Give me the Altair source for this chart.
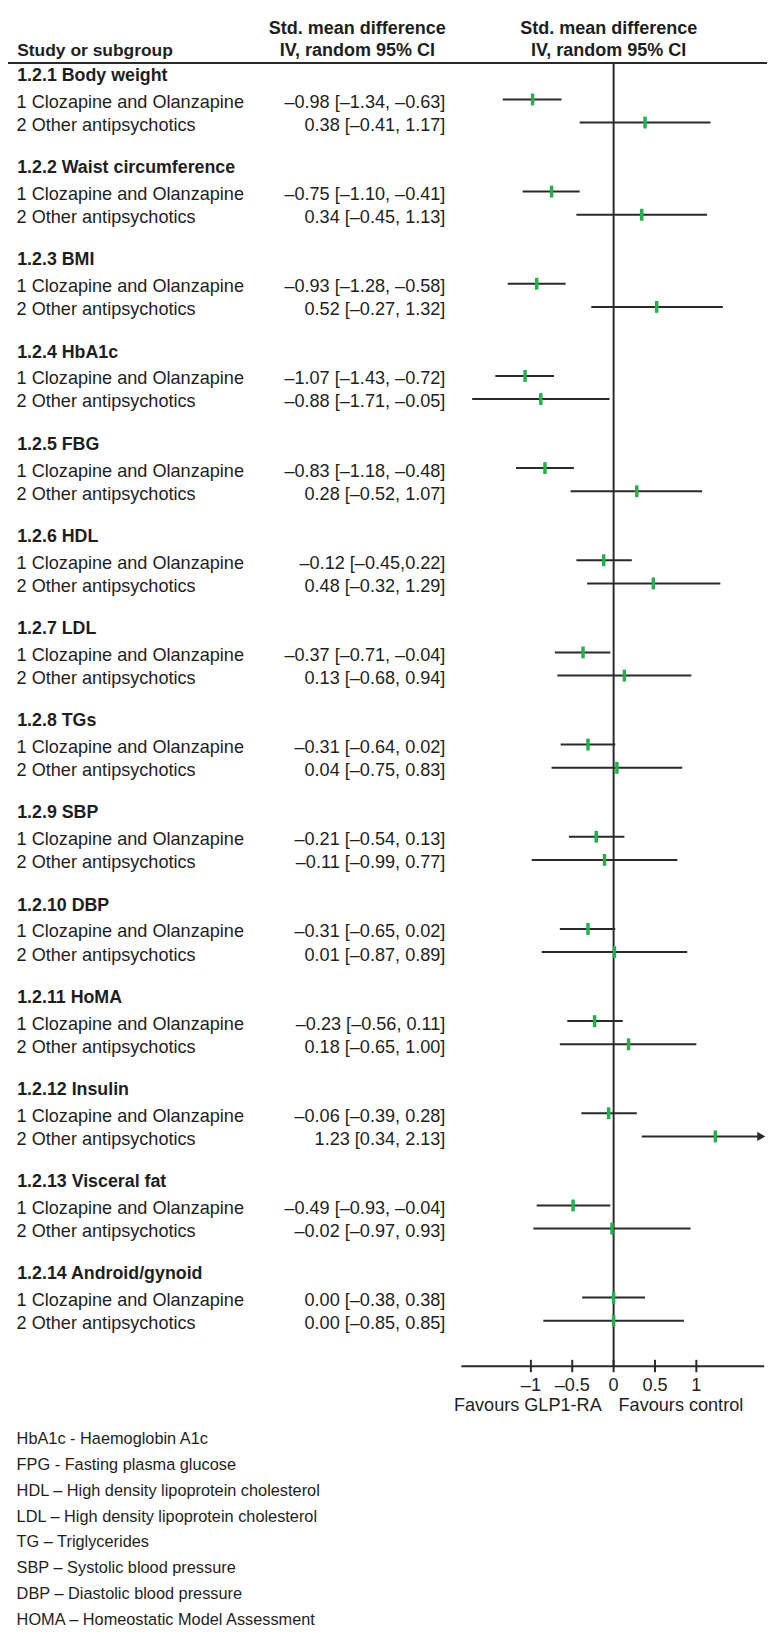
import altair as alt
import pandas as pd

# ---------------- data ----------------
sections = ["1.2.1 Body weight", "1.2.2 Waist circumference", "1.2.3 BMI", "1.2.4 HbA1c",
            "1.2.5 FBG", "1.2.6 HDL", "1.2.7 LDL", "1.2.8 TGs", "1.2.9 SBP", "1.2.10 DBP",
            "1.2.11 HoMA", "1.2.12 Insulin", "1.2.13 Visceral fat", "1.2.14 Android/gynoid"]
subgroups = ["1 Clozapine and Olanzapine", "2 Other antipsychotics"]

est_clo = [-0.98, -0.75, -0.93, -1.07, -0.83, -0.12, -0.37, -0.31, -0.21, -0.31, -0.23, -0.06, -0.49, 0.00]
lo_clo = [-1.34, -1.10, -1.28, -1.43, -1.18, -0.45, -0.71, -0.64, -0.54, -0.65, -0.56, -0.39, -0.93, -0.38]
hi_clo = [-0.63, -0.41, -0.58, -0.72, -0.48, 0.22, -0.04, 0.02, 0.13, 0.02, 0.11, 0.28, -0.04, 0.38]

est_oth = [0.38, 0.34, 0.52, -0.88, 0.28, 0.48, 0.13, 0.04, -0.11, 0.01, 0.18, 1.23, -0.02, 0.00]
lo_oth = [-0.41, -0.45, -0.27, -1.71, -0.52, -0.32, -0.68, -0.75, -0.99, -0.87, -0.65, 0.34, -0.97, -0.85]
hi_oth = [1.17, 1.13, 1.32, -0.05, 1.07, 1.29, 0.94, 0.83, 0.77, 0.89, 1.00, 2.13, 0.93, 0.85]

txt_clo = ["–0.98 [–1.34, –0.63]", "–0.75 [–1.10, –0.41]", "–0.93 [–1.28, –0.58]",
           "–1.07 [–1.43, –0.72]", "–0.83 [–1.18, –0.48]", "–0.12 [–0.45,0.22]",
           "–0.37 [–0.71, –0.04]", "–0.31 [–0.64, 0.02]", "–0.21 [–0.54, 0.13]",
           "–0.31 [–0.65, 0.02]", "–0.23 [–0.56, 0.11]", "–0.06 [–0.39, 0.28]",
           "–0.49 [–0.93, –0.04]", "0.00 [–0.38, 0.38]"]
txt_oth = ["0.38 [–0.41, 1.17]", "0.34 [–0.45, 1.13]", "0.52 [–0.27, 1.32]",
           "–0.88 [–1.71, –0.05]", "0.28 [–0.52, 1.07]", "0.48 [–0.32, 1.29]",
           "0.13 [–0.68, 0.94]", "0.04 [–0.75, 0.83]", "–0.11 [–0.99, 0.77]",
           "0.01 [–0.87, 0.89]", "0.18 [–0.65, 1.00]", "1.23 [0.34, 2.13]",
           "–0.02 [–0.97, 0.93]", "0.00 [–0.85, 0.85]"]

tick_values = [-1, -0.5, 0, 0.5, 1]
tick_labels = ["–1", "–0.5", "0", "0.5", "1"]
axis_range = [-1.84, 1.82]

footnotes = ["HbA1c - Haemoglobin A1c", "FPG - Fasting plasma glucose",
             "HDL – High density lipoprotein cholesterol", "LDL – High density lipoprotein cholesterol",
             "TG – Triglycerides", "SBP – Systolic blood pressure",
             "DBP – Diastolic blood pressure", "HOMA – Homeostatic Model Assessment"]

# ---------------- layout ----------------
W, H = 767, 1628
OFF = 8
ZERO_PX = 620 - OFF
UNIT = 83.6
x_dom = [(0 - ZERO_PX) / UNIT, (W - ZERO_PX) / UNIT]
xs = alt.Scale(domain=x_dom, nice=False, zero=False)
ys = alt.Scale(domain=[0, H], reverse=True, nice=False, zero=False)

FONT = "Liberation Sans"
INK = "#1e1e1e"
LINE = "#2a2a2a"
GREEN = "#22b14c"
FS = 18.3

SEC0, SEC_STEP = 68.3 - OFF, 93.14
ROW1, ROW_STEP = 27.0, 23.4
CI_SHIFT = -3.5

rows = []
titles = []
for s, name in enumerate(sections):
    ty = SEC0 + SEC_STEP * s
    titles.append({"t": name, "y": ty})
    for r, (e, lo, hi, tx) in enumerate([(est_clo[s], lo_clo[s], hi_clo[s], txt_clo[s]),
                                          (est_oth[s], lo_oth[s], hi_oth[s], txt_oth[s])]):
        y_text = ty + ROW1 + ROW_STEP * r
        rows.append({
            "label": subgroups[r], "ci_text": tx, "est": e,
            "lo": max(lo, axis_range[0]), "hi": min(hi, axis_range[1] - 0.03),
            "arrow": hi > axis_range[1], "ty": y_text, "cy": y_text + CI_SHIFT,
        })
rows_df = pd.DataFrame(rows)
titles_df = pd.DataFrame(titles)
arrow_df = rows_df[rows_df["arrow"]].assign(ax=axis_range[1] - 0.035)

AXIS_Y = 1372 - OFF
zero_df = pd.DataFrame({"x": [0.0], "y1": [55 - OFF], "y2": [AXIS_Y]})
axis_df = pd.DataFrame({"x1": [axis_range[0]], "x2": [axis_range[1]], "y": [AXIS_Y]})
ticks_df = pd.DataFrame({"v": tick_values, "lab": tick_labels,
                         "y1": [AXIS_Y - 6.5] * 5, "y2": [AXIS_Y + 6] * 5,
                         "ly": [1392 - OFF] * 5})
fav_df = pd.DataFrame({"x": [0.0], "y": [1412 - OFF]})
foot_df = pd.DataFrame({"t": footnotes, "y": [1446 - OFF + 26.0 * i for i in range(len(footnotes))]})
head_df = pd.DataFrame({"y": [55 - OFF]})
hdr_df = pd.DataFrame({"l1": ["Std. mean difference"], "l2": ["IV, random 95% CI"],
                       "study": ["Study or subgroup"],
                       "y1": [20.7 - OFF], "y2": [43.3 - OFF], "x0": [0.0]})

X = lambda f: alt.X(f, scale=xs, axis=None)
Y = lambda f: alt.Y(f, scale=ys, axis=None)

head_rule = alt.Chart(head_df).mark_rule(color=LINE, strokeWidth=2).encode(
    x=alt.value(0), x2=alt.value(W), y=Y("y:Q"))
zero_rule = alt.Chart(zero_df).mark_rule(color=LINE, strokeWidth=2).encode(
    x=X("x:Q"), y=Y("y1:Q"), y2="y2:Q")
axis_rule = alt.Chart(axis_df).mark_rule(color=LINE, strokeWidth=2).encode(
    x=X("x1:Q"), x2="x2:Q", y=Y("y:Q"))
tick_rules = alt.Chart(ticks_df).mark_rule(color=LINE, strokeWidth=2).encode(
    x=X("v:Q"), y=Y("y1:Q"), y2="y2:Q")
tick_text = alt.Chart(ticks_df).mark_text(font=FONT, fontSize=FS, color=INK, baseline="middle").encode(
    x=X("v:Q"), y=Y("ly:Q"), text="lab:N")
fav_left = alt.Chart(fav_df).mark_text(font=FONT, fontSize=FS, color=INK, baseline="middle",
                                        align="right", dx=-12).encode(
    x=X("x:Q"), y=Y("y:Q"), text=alt.value("Favours GLP1-RA"))
fav_right = alt.Chart(fav_df).mark_text(font=FONT, fontSize=FS, color=INK, baseline="middle",
                                         align="left", dx=5).encode(
    x=X("x:Q"), y=Y("y:Q"), text=alt.value("Favours control"))

ci = alt.Chart(rows_df).mark_rule(color=LINE, strokeWidth=2).encode(
    x=X("lo:Q"), x2="hi:Q", y=Y("cy:Q"))
marker = alt.Chart(rows_df).mark_tick(orient="vertical", size=12, thickness=3.5, color=GREEN, opacity=1).encode(
    x=X("est:Q"), y=Y("cy:Q"))
arrow = alt.Chart(arrow_df).mark_point(shape="triangle-right", filled=True, size=90, color=LINE, opacity=1).encode(
    x=X("ax:Q"), y=Y("cy:Q"))

sec_text = alt.Chart(titles_df).mark_text(font=FONT, fontSize=18, fontWeight="bold", color=INK,
                                           align="left", baseline="middle").encode(
    x=alt.value(17.3 - OFF), y=Y("y:Q"), text="t:N")
lab_text = alt.Chart(rows_df).mark_text(font=FONT, fontSize=FS, color=INK, align="left", baseline="middle").encode(
    x=alt.value(16.7 - OFF), y=Y("ty:Q"), text="label:N")
ci_txt = alt.Chart(rows_df).mark_text(font=FONT, fontSize=FS, color=INK, align="right", baseline="middle").encode(
    x=alt.value(450 - OFF), y=Y("ty:Q"), text="ci_text:N")

HFS = 18.2
hdr_a1 = alt.Chart(hdr_df).mark_text(font=FONT, fontSize=HFS, fontWeight="bold", color=INK, baseline="middle").encode(
    x=alt.value(361 - OFF), y=Y("y1:Q"), text="l1:N")
hdr_a2 = alt.Chart(hdr_df).mark_text(font=FONT, fontSize=HFS, fontWeight="bold", color=INK, baseline="middle").encode(
    x=alt.value(361 - OFF), y=Y("y2:Q"), text="l2:N")
hdr_b1 = alt.Chart(hdr_df).mark_text(font=FONT, fontSize=HFS, fontWeight="bold", color=INK, baseline="middle", dx=-5).encode(
    x=X("x0:Q"), y=Y("y1:Q"), text="l1:N")
hdr_b2 = alt.Chart(hdr_df).mark_text(font=FONT, fontSize=HFS, fontWeight="bold", color=INK, baseline="middle", dx=-5).encode(
    x=X("x0:Q"), y=Y("y2:Q"), text="l2:N")
hdr_s = alt.Chart(hdr_df).mark_text(font=FONT, fontSize=17.6, fontWeight="bold", color=INK, align="left", baseline="middle").encode(
    x=alt.value(17.3 - OFF), y=Y("y2:Q"), text="study:N")

foot = alt.Chart(foot_df).mark_text(font=FONT, fontSize=16.5, color=INK, align="left", baseline="middle").encode(
    x=alt.value(16.7 - OFF), y=Y("y:Q"), text="t:N")

chart = alt.layer(
    head_rule, zero_rule, axis_rule, tick_rules, tick_text, fav_left, fav_right,
    ci, arrow, marker, sec_text, lab_text, ci_txt,
    hdr_a1, hdr_a2, hdr_b1, hdr_b2, hdr_s, foot,
).properties(
    width=W, height=H, padding=0, background="white",
    autosize=alt.AutoSizeParams(type="none"),
).configure_view(stroke=None)

chart.save("out.html", embed_options={"renderer": "svg", "actions": False})
